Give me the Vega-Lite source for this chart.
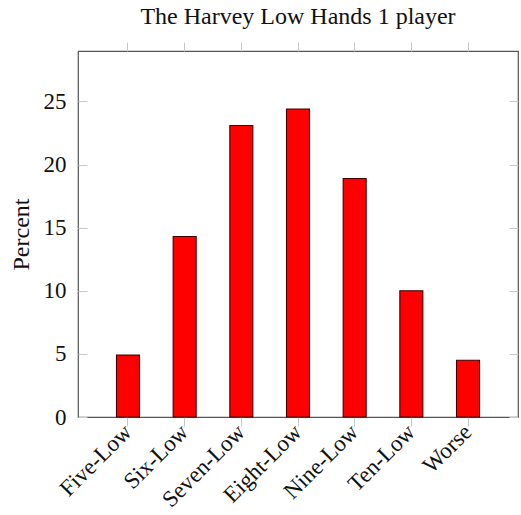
{
  "$schema": "https://vega.github.io/schema/vega-lite/v6.json",
  "width": 440,
  "height": 366,
  "autosize": {"type": "none"},
  "padding": {"left": 78, "top": 51, "right": 3, "bottom": 98},
  "background": "white",
  "title": {
    "text": "The Harvey Low Hands 1 player",
    "font": "Liberation Serif",
    "fontSize": 24,
    "fontWeight": "normal",
    "color": "#111",
    "offset": 13
  },
  "config": {
    "view": {"stroke": "#555", "strokeWidth": 1.2},
    "axis": {
      "labelFont": "Liberation Serif",
      "titleFont": "Liberation Serif",
      "labelFontSize": 23,
      "titleFontSize": 24,
      "titleFontWeight": "normal",
      "labelColor": "#111",
      "titleColor": "#111",
      "domain": false,
      "grid": false,
      "tickColor": "#c8c8c8",
      "tickWidth": 1
    }
  },
  "data": {
    "values": [
      {"hand": "Five-Low", "percent": 4.9},
      {"hand": "Six-Low", "percent": 14.3},
      {"hand": "Seven-Low", "percent": 23.1},
      {"hand": "Eight-Low", "percent": 24.4},
      {"hand": "Nine-Low", "percent": 18.9},
      {"hand": "Ten-Low", "percent": 10.0},
      {"hand": "Worse", "percent": 4.5}
    ]
  },
  "layer": [
    {
      "mark": {"type": "bar", "fill": "#ff0000", "stroke": "#400000", "strokeWidth": 1.1},
      "encoding": {
        "x": {
          "field": "hand", "type": "nominal", "sort": null,
          "scale": {"paddingInner": 0.594, "paddingOuter": 0.679},
          "axis": {"orient": "bottom", "title": null, "labelAngle": -45, "labelAlign": "right", "labelBaseline": "middle", "tickSize": 9, "labelPadding": 2}
        },
        "y": {
          "field": "percent", "type": "quantitative",
          "scale": {"domain": [0, 29], "nice": false},
          "axis": {"orient": "left", "title": "Percent", "values": [0, 5, 10, 15, 20, 25], "tickSize": -9, "labelPadding": 21, "titlePadding": 10}
        }
      }
    },
    {
      "mark": {"type": "bar", "opacity": 0},
      "encoding": {
        "x": {
          "field": "hand", "type": "nominal", "sort": null,
          "axis": {"orient": "top", "title": null, "labels": false, "tickSize": 9}
        },
        "y": {
          "field": "percent", "type": "quantitative",
          "axis": {"orient": "right", "title": null, "labels": false, "values": [0, 5, 10, 15, 20, 25], "tickSize": -9}
        }
      }
    }
  ],
  "resolve": {"axis": {"x": "independent", "y": "independent"}}
}
